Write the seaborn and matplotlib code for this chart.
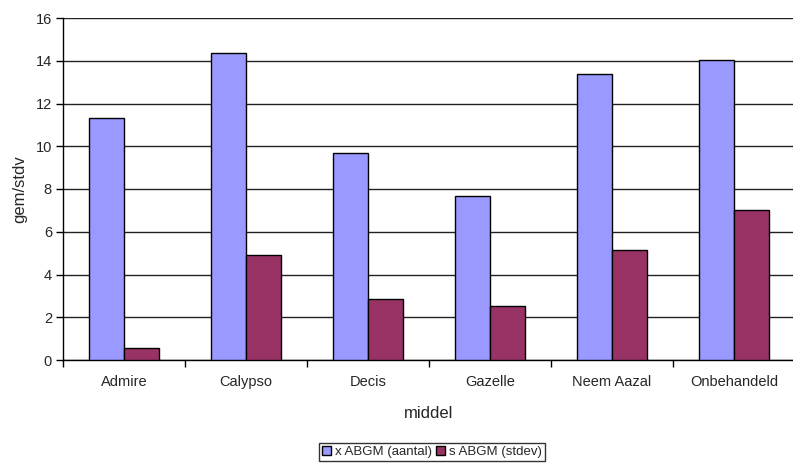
import matplotlib
matplotlib.use("Agg")
import matplotlib.pyplot as plt
import seaborn as sns
import pandas as pd
import numpy as np

# Pest counts per treatment: mean and standard deviation
middelen = ["Admire", "Calypso", "Decis", "Gazelle", "Neem Aazal", "Onbehandeld"]
gemiddelde = [11.32, 14.36, 9.67, 7.69, 13.38, 14.02]
stdev = [0.56, 4.91, 2.87, 2.54, 5.13, 7.00]
series = ["x ABGM (aantal)", "s ABGM (stdev)"]
yticks = [0, 2, 4, 6, 8, 10, 12, 14, 16]

df = pd.DataFrame({
    "middel": middelen * 2,
    "waarde": gemiddelde + stdev,
    "reeks": [series[0]] * len(middelen) + [series[1]] * len(middelen),
})

sns.set_style("white")
plt.rcParams["font.family"] = ["Liberation Sans", "DejaVu Sans"]

W, H = 793, 463
fig = plt.figure(figsize=(W / 100, H / 100), dpi=100)
ax = fig.add_axes([63 / W, (H - 360) / H, 732 / W, 342 / H])

sns.barplot(data=df, x="middel", y="waarde", hue="reeks", order=middelen,
            hue_order=series, palette=["#9999FF", "#993366"], width=0.58,
            edgecolor="black", linewidth=1.0, saturation=1, ax=ax, zorder=3)

ax.set_ylim(0, 16)
ax.set_xlim(-0.5, len(middelen) - 0.5)
ax.set_yticks(yticks)
ax.set_yticklabels([str(t) for t in yticks], fontsize=10.5)
ax.yaxis.grid(True, color="#222222", linewidth=1.0, zorder=0)
ax.set_axisbelow(True)

# category labels centred, tick marks between categories
ax.tick_params(axis="x", which="major", length=0, labelsize=10.5, pad=11)
ax.set_xticks(np.arange(-0.5, len(middelen) + 0.5, 1), minor=True)
ax.tick_params(axis="x", which="minor", length=5, width=1, color="black", direction="out", bottom=True)
ax.tick_params(axis="y", length=5, width=1, color="black", direction="out", left=True, labelsize=10.5, pad=3)

for side in ["top", "right"]:
    ax.spines[side].set_visible(False)
for side in ["left", "bottom"]:
    ax.spines[side].set_color("black")
    ax.spines[side].set_linewidth(1.0)

ax.set_xlabel("middel", fontsize=12, labelpad=12)
ax.set_ylabel("gem/stdv", fontsize=12, labelpad=6)

leg = ax.legend(loc="center", bbox_to_anchor=(432 / W, (H - 452) / H), bbox_transform=fig.transFigure,
                ncol=2, fontsize=9.5, frameon=True, fancybox=False, edgecolor="black",
                handlelength=0.7, handleheight=0.7, handletextpad=0.3, columnspacing=0.3,
                borderpad=0.2, borderaxespad=0)
leg.get_frame().set_linewidth(1.0)

fig.savefig("out.png", dpi=100)
